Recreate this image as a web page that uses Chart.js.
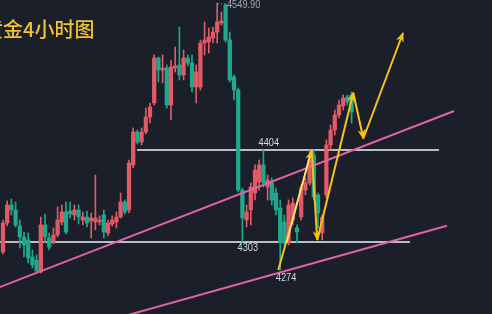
<!DOCTYPE html>
<html>
<head>
<meta charset="utf-8">
<script src="https://cdn.jsdelivr.net/npm/chart.js@4.4.1/dist/chart.umd.min.js"></script>
<style>
  html, body { margin: 0; padding: 0; background: #1b1f2a; }
  #wrap { width: 492px; height: 314px; }
</style>
</head>
<body>
<div id="wrap"><canvas id="chart" width="492" height="314"></canvas></div>
<script>
// 4h gold candles
const opens = [4292.7, 4322.6, 4341.2, 4336.1, 4319.5, 4308.2, 4305.1, 4287.5, 4284.4, 4272.0,
  4320.6, 4307.1, 4303.0, 4310.2, 4323.7, 4334.0, 4335.0, 4330.9, 4336.1, 4325.7,
  4328.8, 4324.7, 4323.7, 4323.7, 4330.9, 4312.3, 4321.6, 4323.7, 4328.8, 4344.3,
  4336.1, 4382.6, 4416.6, 4406.3, 4416.6, 4432.1, 4446.6, 4493.1, 4480.7, 4482.8,
  4444.5, 4482.8, 4485.9, 4475.5, 4493.1, 4487.9, 4463.1, 4463.1, 4508.6, 4509.6,
  4513.7, 4519.9, 4529.2, 4547.8, 4511.7, 4473.5, 4460.0, 4356.7, 4325.7, 4336.1,
  4353.6, 4365.0, 4382.6, 4359.8, 4364.0, 4353.6, 4338.1, 4323.7, 4302.0, 4325.7,
  4317.5, 4328.8, 4356.7, 4364.0, 4392.9, 4351.6, 4312.3, 4351.6, 4403.2, 4418.7,
  4434.2, 4443.5, 4452.8, 4454.9];
const highs = [4325.7, 4345.4, 4347.4, 4344.3, 4325.7, 4313.3, 4312.3, 4294.8, 4289.6, 4328.8,
  4331.9, 4312.3, 4317.5, 4339.2, 4341.2, 4344.3, 4344.3, 4341.2, 4341.2, 4334.0,
  4335.0, 4333.0, 4372.2, 4329.9, 4336.1, 4325.7, 4329.9, 4334.0, 4353.6, 4346.4,
  4387.7, 4420.8, 4418.7, 4420.8, 4441.4, 4446.6, 4496.2, 4494.1, 4496.2, 4485.9,
  4491.0, 4504.4, 4525.1, 4501.4, 4496.2, 4496.2, 4485.9, 4511.7, 4530.3, 4524.1,
  4525.1, 4549.9, 4540.6, 4548.9, 4519.9, 4475.5, 4462.1, 4358.8, 4341.2, 4364.0,
  4382.6, 4387.7, 4398.1, 4372.2, 4369.1, 4358.8, 4346.4, 4330.9, 4346.4, 4348.5,
  4320.6, 4361.9, 4369.1, 4398.1, 4398.1, 4353.6, 4330.9, 4408.4, 4423.9, 4439.4,
  4449.7, 4454.9, 4454.9, 4458.0];
const lows = [4290.6, 4319.5, 4330.9, 4318.5, 4296.8, 4287.5, 4281.3, 4276.2, 4271.0, 4271.0,
  4302.0, 4294.8, 4301.0, 4308.2, 4320.6, 4311.3, 4327.8, 4325.7, 4321.6, 4320.6,
  4318.5, 4307.1, 4315.4, 4320.6, 4307.1, 4309.2, 4319.5, 4317.5, 4327.8, 4331.9,
  4333.0, 4379.5, 4404.3, 4403.2, 4414.6, 4425.9, 4444.5, 4468.3, 4467.3, 4441.4,
  4429.0, 4478.6, 4470.4, 4470.4, 4484.8, 4458.0, 4446.6, 4460.0, 4496.2, 4498.3,
  4508.6, 4508.6, 4527.2, 4509.6, 4468.3, 4449.7, 4354.7, 4303.0, 4318.5, 4320.6,
  4346.4, 4356.7, 4359.8, 4346.4, 4341.2, 4330.9, 4274.0, 4299.9, 4299.9, 4320.6,
  4302.0, 4325.7, 4351.6, 4361.9, 4346.4, 4317.5, 4305.1, 4348.5, 4398.1, 4413.5,
  4431.1, 4439.4, 4444.5, 4425.9];
const closes = [4322.6, 4341.2, 4336.1, 4320.6, 4308.2, 4299.9, 4286.5, 4279.3, 4273.1, 4320.6,
  4308.2, 4297.8, 4310.2, 4325.7, 4334.0, 4313.3, 4331.9, 4336.1, 4328.8, 4328.8,
  4322.6, 4327.8, 4327.8, 4325.7, 4313.3, 4322.6, 4325.7, 4328.8, 4344.3, 4334.0,
  4384.6, 4416.6, 4406.3, 4416.6, 4432.1, 4442.5, 4493.1, 4480.7, 4482.8, 4444.5,
  4483.8, 4484.8, 4475.5, 4493.1, 4487.9, 4463.1, 4478.6, 4508.6, 4511.7, 4514.8,
  4519.9, 4530.3, 4531.3, 4511.7, 4470.4, 4460.0, 4356.7, 4327.8, 4334.0, 4359.8,
  4377.4, 4382.6, 4364.0, 4367.1, 4346.4, 4336.1, 4302.0, 4302.0, 4341.2, 4343.3,
  4313.3, 4358.8, 4364.0, 4387.7, 4349.5, 4333.0, 4328.8, 4403.2, 4418.7, 4434.2,
  4444.5, 4451.8, 4447.6, 4437.3];

// drawn levels and trend lines, x = candle index, y = price
const levelValues = [4398.1, 4303.0];
const levelFrom = [31.9, -0.8];
const levelTo = [103.8, 96.9];
const upperTrend = [{ x: -0.8, y: 4256.4 }, { x: 107.4, y: 4438.3 }];
const lowerTrend = [{ x: 28, y: 4225.4 }, { x: 105.7, y: 4319.8 }];
const arrowPath = [
  { x: 65.55, y: 4274.1 }, { x: 73.5, y: 4397.3 }, { x: 74.83, y: 4305.1 },
  { x: 83.4, y: 4457.2 }, { x: 85.79, y: 4409.9 }, { x: 95.24, y: 4518.9 }
];
const paleLeg = [{ x: 67.55, y: 4302.0 }, { x: 73.1, y: 4392.9 }];
const highLeader = [{ x: 51.2, y: 4549.0 }, { x: 53.1, y: 4549.0 }];

const notes = [
  { text: '4549.90', x: 53.33, y: 4547.8, align: 'left', color: '#a3a8b0' },
  { text: '4404', x: 63.3, y: 4405.3, align: 'center', color: '#d6d9de' },
  { text: '4303', x: 58.3, y: 4296.8, align: 'center', color: '#d6d9de' },
  { text: '4274', x: 67.4, y: 4265.8, align: 'center', color: '#d6d9de' }
];

const BG = '#1b1f2a';
const RED = '#e15a66';
const GREEN = '#1fa98c';
const PINK = '#e063a6';
const YELLOW = '#f5c41a';
const WHITE = '#b9bdc4';

const candleColors = opens.map((o, i) => closes[i] >= o ? RED : GREEN);
const bodies = opens.map((o, i) => ({ x: i, y: [o, closes[i]] }));
const wicks = opens.map((o, i) => ({ x: i, y: [lows[i], highs[i]] }));

const lineSet = (pts, color, width, order, extra) => Object.assign({
  type: 'line', data: pts, borderColor: color, backgroundColor: color,
  borderWidth: width, pointRadius: 0, fill: false, tension: 0, order: order
}, extra || {});

let datasets = [
  { type: 'bar', data: wicks, backgroundColor: candleColors, barThickness: 1, grouped: false, order: 2 },
  { type: 'bar', data: bodies, backgroundColor: candleColors, barThickness: 3.6, grouped: false, minBarLength: 1, order: 1 }
];
levelValues.forEach((v, i) => {
  datasets.push(lineSet([{ x: levelFrom[i], y: v }, { x: levelTo[i], y: v }], WHITE, 2, 3));
});
datasets.push(lineSet(highLeader, '#9aa0a8', 1, 3, { borderDash: [1, 2] }));
datasets.push(lineSet(upperTrend, PINK, 2, 0));
datasets.push(lineSet(lowerTrend, PINK, 2, 0));
datasets.push(lineSet(paleLeg, 'rgba(250,232,150,0.85)', 1.5, -1));
for (let i = 1; i < arrowPath.length; i++) {
  datasets.push(lineSet([arrowPath[i - 1], arrowPath[i]], YELLOW, 2, -1, { arrow: true }));
}

const overlay = {
  id: 'overlay',
  beforeDraw(chart) {
    const c = chart.ctx;
    c.save();
    c.fillStyle = BG;
    c.fillRect(0, 0, chart.width, chart.height);
    c.restore();
  },
  afterDatasetsDraw(chart) {
    const c = chart.ctx;
    const xs = chart.scales.x, ys = chart.scales.y;
    c.save();
    // arrow heads at the end of each yellow leg
    chart.data.datasets.forEach((ds, i) => {
      if (!ds.arrow) return;
      const pts = chart.getDatasetMeta(i).data;
      const a = pts[pts.length - 2], b = pts[pts.length - 1];
      const ang = Math.atan2(b.y - a.y, b.x - a.x);
      const cs = Math.cos(ang), sn = Math.sin(ang);
      c.fillStyle = ds.borderColor;
      c.beginPath();
      c.moveTo(b.x + cs, b.y + sn);
      c.lineTo(b.x - 9 * cs + 4 * sn, b.y - 9 * sn - 4 * cs);
      c.lineTo(b.x - 6 * cs, b.y - 6 * sn);
      c.lineTo(b.x - 9 * cs - 4 * sn, b.y - 9 * sn + 4 * cs);
      c.closePath();
      c.fill();
    });
    notes.forEach(n => {
      c.save();
      c.translate(xs.getPixelForValue(n.x), ys.getPixelForValue(n.y));
      c.scale(0.84, 1);
      c.font = '11px "Liberation Sans", Arial, sans-serif';
      c.textAlign = n.align;
      c.textBaseline = 'middle';
      c.fillStyle = n.color;
      c.fillText(n.text, 0, 0);
      c.restore();
    });
    c.font = '500 20px "Noto Sans CJK SC", sans-serif';
    c.fillStyle = '#f1c232';
    c.textBaseline = 'middle';
    c.textAlign = 'left';
    c.fillText('黄金4小时图', -17, 29);
    c.restore();
  }
};

const ctx = document.getElementById('chart').getContext('2d');
const chart = new Chart(ctx, {
  type: 'bar',
  data: { datasets: datasets },
  options: {
    responsive: false,
    animation: false,
    devicePixelRatio: 1,
    layout: { padding: 0 },
    plugins: { legend: { display: false }, tooltip: { enabled: false } },
    scales: {
      x: { type: 'linear', min: -0.714, max: 116.43, offset: false, display: false, grid: { display: false } },
      y: { type: 'linear', min: 4228.6, max: 4553, display: false, grid: { display: false } }
    }
  },
  plugins: [overlay]
});
</script>
</body>
</html>
